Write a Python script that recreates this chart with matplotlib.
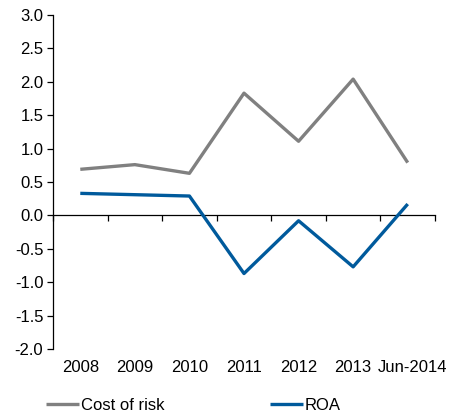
import matplotlib
matplotlib.use('Agg')
import matplotlib.pyplot as plt
import matplotlib.transforms as mtransforms
import numpy as np

plt.rcParams['font.family'] = ['Liberation Sans', 'DejaVu Sans']

years = ['2008', '2009', '2010', '2011', '2012', '2013', 'Jun-2014']
cost_of_risk = [0.69, 0.76, 0.63, 1.83, 1.11, 2.04, 0.79]
roa = [0.33, 0.31, 0.29, -0.87, -0.08, -0.77, 0.17]

fig = plt.figure(figsize=(4.54, 4.17), dpi=100)
ax = fig.add_axes([53/454, 1-349/417, 382/454, 334/417])

x = np.arange(len(years))
ax.plot(x, cost_of_risk, color='#808080', lw=2.4, label='Cost of risk', solid_capstyle='butt')
ax.plot(x, roa, color='#005A9C', lw=2.4, label='ROA', solid_capstyle='butt')

ax.set_xlim(-0.5, len(years) - 0.5)
ax.set_ylim(-2, 3)
ax.set_yticks(np.arange(-2, 3.01, 0.5))
ax.set_yticklabels(['%.1f' % v for v in np.arange(-2, 3.01, 0.5)])
ax.tick_params(axis='y', direction='out', length=4, width=0.9, labelsize=12, pad=3)

# category labels at the bottom, no ticks
ax.set_xticks(x)
ax.set_xticklabels(years)
ax.tick_params(axis='x', length=0, labelsize=12, pad=8)
# last label nudged right, like the original
last = ax.get_xticklabels()[-1]
last.set_transform(last.get_transform() + mtransforms.ScaledTranslation(5/100, 0, fig.dpi_scale_trans))

for s in ['top', 'right', 'bottom']:
    ax.spines[s].set_visible(False)
ax.spines['left'].set_linewidth(0.9)

# zero line with ticks between categories
sec = ax.secondary_xaxis(0.4)
sec.set_xticks(np.arange(-0.5, len(years), 1.0))
sec.set_xticklabels([])
sec.tick_params(direction='out', length=4, width=0.9)
sec.spines['bottom'].set_linewidth(0.9)

fig.legend(loc='center left', bbox_to_anchor=(46/454, 1-405/417), ncol=2, frameon=False,
           fontsize=12, handlelength=2.0, handletextpad=0.1, columnspacing=6.3,
           borderpad=0, borderaxespad=0)

fig.savefig('out.png', dpi=100)
